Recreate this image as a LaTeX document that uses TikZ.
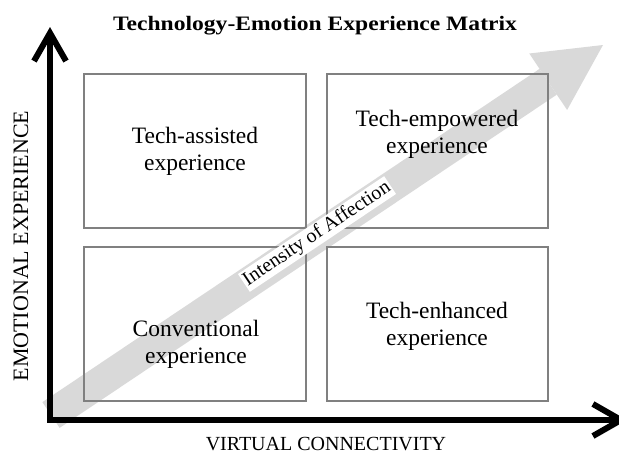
\documentclass[tikz,border=0pt]{standalone}
\usepackage{fontspec}
\setmainfont{Liberation Serif}
\newfontfamily\titlefont[FakeStretch=1.15]{Liberation Serif}
\usetikzlibrary{arrows.meta}
\definecolor{bandgray}{RGB}{217,217,217}
\definecolor{boxgray}{RGB}{128,128,128}
\begin{document}
\begin{tikzpicture}[x=1pt,y=-1pt,
  cell/.style={draw=boxgray, line width=2.5pt, minimum height=154pt, inner sep=0pt},
  celltext/.style={align=center, inner sep=0pt, font=\fontsize{23.5}{27}\selectfont},
  axisline/.style={line width=6pt, line join=miter,
    {Straight Barb[length=28pt,width=32pt]}-{Straight Barb[length=28pt,width=32pt]}},
  axislabel/.style={inner sep=0pt, anchor=base, font=\fontsize{20}{24}\selectfont},
  band/.style={bandgray, line width=31pt,
    -{Triangle[length=66pt,width=68pt,line width=0pt]}},
  bandlabel/.style={fill=white, inner sep=1.5pt, rotate=33.8, font=\fontsize{20}{24}\selectfont}]
\useasboundingbox (0,0) rectangle (619,453);

% diagonal band behind the matrix
\coordinate (bandtail) at (51,415);
\coordinate (bandtip) at (603,45);
\draw[band] (bandtail) -- (bandtip);

% the four quadrants
\node[cell, minimum width=222pt] (ta) at (195,151) {};
\node[cell, minimum width=221pt] (te) at (437.5,151) {};
\node[cell, minimum width=222pt] (cv) at (195,324) {};
\node[cell, minimum width=221pt] (th) at (437.5,324) {};

\node[celltext] (taText) at (195,151) {Tech-assisted\\experience};
\node[celltext] (teText) at (437,134) {Tech-empowered\\experience};
\node[celltext] (cvText) at (196,344) {Conventional\\experience};
\node[celltext] (thText) at (437,326) {Tech-enhanced\\experience};

\node[bandlabel] (affect) at (317,234) {Intensity of Affection};

% axes
\coordinate (ytop) at (50,27);
\coordinate (origin) at (50,420);
\coordinate (xend) at (627,420);
\draw[axisline] (ytop) -- (origin) -- (xend);

\node[axislabel] (xlab) at (326,450.5) {VIRTUAL CONNECTIVITY};
\node[axislabel, rotate=90, font=\fontsize{22}{26}\selectfont] (ylab) at (28,246) {EMOTIONAL EXPERIENCE};

% heading
\node[inner sep=0pt, anchor=base, font=\titlefont\bfseries\fontsize{20.5}{24}\selectfont] (title) at (315,30)
  {Technology-Emotion Experience Matrix};
\end{tikzpicture}
\end{document}
